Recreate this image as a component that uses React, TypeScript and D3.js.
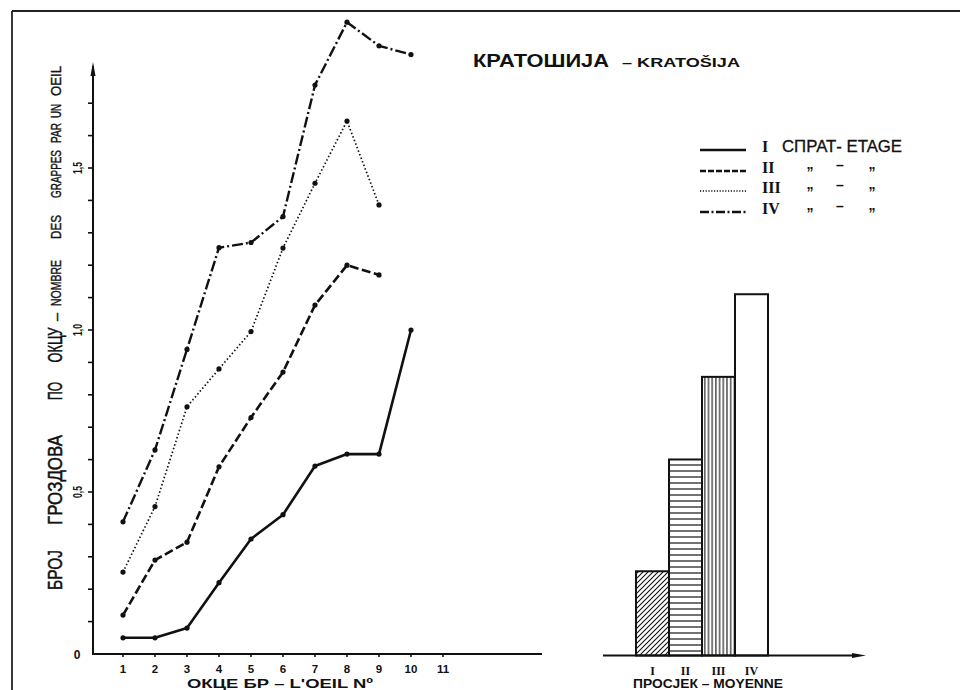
import React from "react";
import * as d3 from "d3";

// Eye position along the cane (x axis of the line chart)
const eyeNumbers = [1, 2, 3, 4, 5, 6, 7, 8, 9, 10, 11];

// Bunches per eye, by tier (СПРАТ / ETAGE)
const tierI = [0.05, 0.05, 0.08, 0.22, 0.355, 0.43, 0.58, 0.617, 0.617, 1.0];
const tierII = [0.12, 0.29, 0.345, 0.578, 0.73, 0.87, 1.077, 1.2, 1.17];
const tierIII = [0.253, 0.455, 0.763, 0.88, 0.995, 1.253, 1.453, 1.645, 1.386];
const tierIV = [0.408, 0.63, 0.94, 1.254, 1.27, 1.35, 1.756, 1.95, 1.877, 1.85];

// Averages per tier (ПРОСЈЕК / MOYENNE)
const tierNames = ["I", "II", "III", "IV"];
const tierMeans = [0.26, 0.605, 0.86, 1.115];

const yTickValues = [0, 0.5, 1.0, 1.5];
const yTickLabels = ["0", "0,5", "1,0", "1,5"];

const titleMain = "КРАТОШИЈА";
const titleLatin = "– KRATOŠIJA";
const legendHeader = "СПРАТ- ETAGE";
const xAxisTitle = "ОКЦЕ  БР  –  L'OEIL  Nº";
const barAxisTitle = "ПРОСЈЕК  –  MOYENNE";

// Y-axis title, split into words placed along the axis
const yTitleCyr = ["БРОЈ", "ГРОЗДОВА", "ПО", "ОКЦУ"];
const yTitleFr = ["–", "NOMBRE", "DES", "GRAPPES", "PAR", "UN", "OEIL"];

const SANS = "'Liberation Sans', Arial, sans-serif";
const SERIF = "'Liberation Serif', 'Times New Roman', serif";

export default function App() {
  const x = d3.scaleLinear().domain([0, 11]).range([91, 443]);
  const y = d3.scaleLinear().domain([0, 1]).range([654, 330]);

  const band = d3.scaleBand<string>().domain(tierNames).range([636, 768]).padding(0);
  const yBar = d3.scaleLinear().domain([0, 1]).range([655.5, 331.5]);

  const line = d3
    .line<number>()
    .x((_, i) => x(i + 1))
    .y((d) => y(d));

  const series = [
    { values: tierI, dash: "none", legendDash: "none", width: 2.6 },
    { values: tierII, dash: "9,3.5", legendDash: "6,2", width: 2.6 },
    { values: tierIII, dash: "1.5,2.3", legendDash: "1.2,1.6", width: 1.7 },
    { values: tierIV, dash: "11,3,2,3", legendDash: "9,2.5,2,2.5", width: 2.4 },
  ];

  const minorTicks = d3.range(1, 18).map((d) => d / 10);

  // Word layout along the rotated y title: [center y, length]
  const cyrLayout: [number, number][] = [
    [570, 40],
    [480, 90],
    [391, 18],
    [345, 35],
  ];
  const frLayout: [number, number][] = [
    [317, 8],
    [283, 46],
    [227, 24],
    [174, 48],
    [133, 20],
    [111, 14],
    [81, 30],
  ];

  const legendRows = [152, 173, 193, 214];

  return (
    <svg
      width={960}
      height={690}
      style={{ position: "absolute", left: 0, top: 0, background: "#fff" }}
    >
      <defs>
        <pattern id="hatchDiag" patternUnits="userSpaceOnUse" width={5} height={5}>
          <path d="M-1,1 l2,-2 M0,5 l5,-5 M4,6 l2,-2" stroke="#111" strokeWidth={1.1} />
        </pattern>
        <pattern id="hatchHoriz" patternUnits="userSpaceOnUse" width={6} height={6}>
          <line x1={0} y1={3} x2={6} y2={3} stroke="#111" strokeWidth={1.2} />
        </pattern>
        <pattern id="hatchVert" patternUnits="userSpaceOnUse" width={3.7} height={6}>
          <line x1={1.8} y1={0} x2={1.8} y2={6} stroke="#111" strokeWidth={1.1} />
        </pattern>
      </defs>

      <rect x={0} y={0} width={960} height={690} fill="#fff" />

      {/* frame */}
      <line x1={12} y1={11} x2={960} y2={11} stroke="#222" strokeWidth={1.8} />
      <line x1={12} y1={11} x2={12} y2={690} stroke="#222" strokeWidth={1.8} />

      {/* title */}
      <text x={473} y={67} fontFamily={SANS} fontWeight="bold" fontSize={18} textLength={136} lengthAdjust="spacingAndGlyphs" fill="#111">
        {titleMain}
      </text>
      <text x={622} y={67} fontFamily={SANS} fontWeight="bold" fontSize={13} textLength={118} lengthAdjust="spacingAndGlyphs" fill="#111">
        {titleLatin}
      </text>

      {/* y axis */}
      <line x1={x(0) + 2} y1={y(0)} x2={x(0) + 2} y2={66} stroke="#111" strokeWidth={2} />
      <path d={`M${x(0) + 2},62 L${x(0) - 0.5},76 L${x(0) + 4.5},76 Z`} fill="#111" />
      {minorTicks.map((t) => (
        <line key={t} x1={x(0) - 3} x2={x(0) + 2} y1={y(t)} y2={y(t)} stroke="#111" strokeWidth={1.6} />
      ))}
      {yTickValues.map((v, i) =>
        i === 0 ? (
          <text key={v} x={77} y={y(v) + 5} textAnchor="middle" fontFamily={SANS} fontWeight="bold" fontSize={12} fill="#111">
            {yTickLabels[i]}
          </text>
        ) : (
          <text
            key={v}
            transform={`translate(82,${y(v)}) rotate(-90)`}
            textAnchor="middle"
            fontFamily={SANS}
            fontWeight="bold"
            fontSize={12}
            textLength={12}
            lengthAdjust="spacingAndGlyphs"
            fill="#111"
          >
            {yTickLabels[i]}
          </text>
        )
      )}

      {/* y title */}
      {yTitleCyr.map((w, i) => (
        <text
          key={w}
          transform={`translate(62,${cyrLayout[i][0]}) rotate(-90)`}
          textAnchor="middle"
          fontFamily={SANS}
          fontSize={19.5}
          textLength={cyrLayout[i][1]}
          lengthAdjust="spacingAndGlyphs"
          fill="#111"
          stroke="#111"
          strokeWidth={0.5}
        >
          {w}
        </text>
      ))}
      {yTitleFr.map((w, i) => (
        <text
          key={w}
          transform={`translate(60.5,${frLayout[i][0]}) rotate(-90)`}
          textAnchor="middle"
          fontFamily={SANS}
          fontSize={15}
          textLength={frLayout[i][1]}
          lengthAdjust="spacingAndGlyphs"
          fill="#111"
          stroke="#111"
          strokeWidth={0.4}
        >
          {w}
        </text>
      ))}

      {/* x axis */}
      <line x1={x(0) + 1} y1={y(0)} x2={542} y2={y(0)} stroke="#111" strokeWidth={2} />
      {eyeNumbers.map((n) => (
        <g key={n}>
          <line x1={x(n)} x2={x(n)} y1={y(0)} y2={y(0) + 3} stroke="#111" strokeWidth={1.6} />
          <text x={x(n)} y={673} textAnchor="middle" fontFamily={SANS} fontWeight="bold" fontSize={11.5} fill="#111">
            {n}
          </text>
        </g>
      ))}
      <text x={280} y={688} textAnchor="middle" fontFamily={SANS} fontWeight="bold" fontSize={12} textLength={186} lengthAdjust="spacingAndGlyphs" fill="#111">
        {xAxisTitle}
      </text>

      {/* tier lines */}
      {series.map((s, k) => (
        <g key={k}>
          <path
            d={line(s.values) || ""}
            fill="none"
            stroke="#111"
            strokeWidth={s.width}
            strokeDasharray={s.dash}
            strokeLinejoin="round"
          />
          {s.values.map((v, i) => (
            <circle key={i} cx={x(i + 1)} cy={y(v)} r={2.6} fill="#111" />
          ))}
        </g>
      ))}

      {/* legend */}
      {series.map((s, k) => (
        <g key={k}>
          <line
            x1={700}
            x2={746}
            y1={legendRows[k] - 2}
            y2={legendRows[k] - 2}
            stroke="#111"
            strokeWidth={s.width}
            strokeDasharray={s.legendDash}
          />
          <text x={762} y={legendRows[k]} fontFamily={SERIF} fontWeight="bold" fontSize={16} fill="#111">
            {tierNames[k]}
          </text>
          {k === 0 ? (
            <text x={782} y={legendRows[k]} fontFamily={SANS} fontSize={16} textLength={120} lengthAdjust="spacingAndGlyphs" fill="#111" stroke="#111" strokeWidth={0.3}>
              {legendHeader}
            </text>
          ) : (
            <g fontFamily={SANS} fontWeight="bold" fill="#111">
              <text x={810} y={legendRows[k] + 4} fontSize={14} textAnchor="middle">
                {"\u201D"}
              </text>
              <text x={840} y={legendRows[k] - 3} fontSize={14} textAnchor="middle">
                {"–"}
              </text>
              <text x={872} y={legendRows[k] + 4} fontSize={14} textAnchor="middle">
                {"\u201D"}
              </text>
            </g>
          )}
        </g>
      ))}

      {/* mean bars */}
      {tierNames.map((name, i) => {
        const fill = i === 0 ? "url(#hatchDiag)" : i === 1 ? "url(#hatchHoriz)" : i === 2 ? "url(#hatchVert)" : "#fff";
        const x0 = band(name) as number;
        return (
          <rect
            key={name}
            x={x0}
            y={yBar(tierMeans[i])}
            width={band.bandwidth()}
            height={yBar(0) - yBar(tierMeans[i])}
            fill={fill}
            stroke="#111"
            strokeWidth={2}
          />
        );
      })}
      <line x1={603} y1={yBar(0)} x2={858} y2={yBar(0)} stroke="#111" strokeWidth={1.8} />
      <path d={`M866,${yBar(0)} L852,${yBar(0) - 2.5} L852,${yBar(0) + 2.5} Z`} fill="#111" />
      {tierNames.map((name) => (
        <text
          key={name}
          x={(band(name) as number) + band.bandwidth() / 2}
          y={675}
          textAnchor="middle"
          fontFamily={SERIF}
          fontWeight="bold"
          fontSize={12}
          fill="#111"
        >
          {name}
        </text>
      ))}
      <text x={708} y={688} textAnchor="middle" fontFamily={SANS} fontWeight="bold" fontSize={12} textLength={150} lengthAdjust="spacingAndGlyphs" fill="#111">
        {barAxisTitle}
      </text>
    </svg>
  );
}
